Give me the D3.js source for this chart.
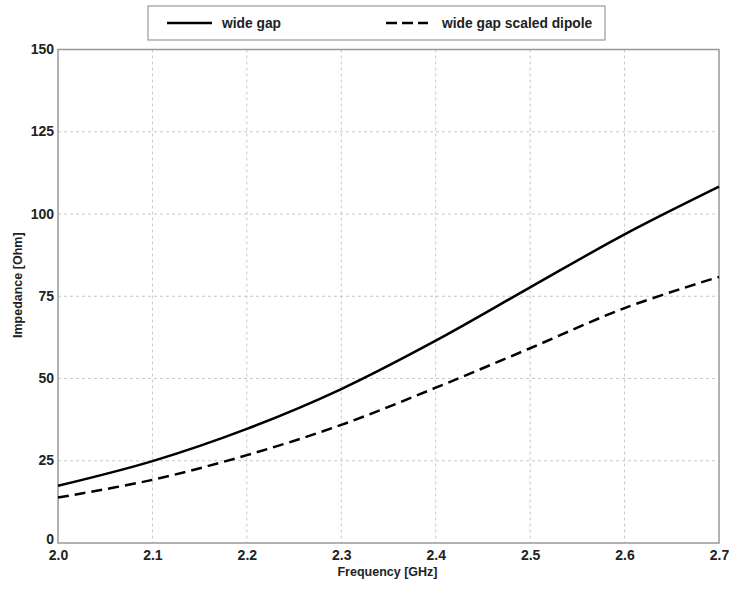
<!DOCTYPE html>
<html><head><meta charset="utf-8">
<script src="https://cdn.jsdelivr.net/npm/d3@7"></script>
<style>body{margin:0;background:#fff;} svg{display:block;font-family:"Liberation Sans",Arial,sans-serif;}</style>
</head><body>
<svg id="c" width="732" height="590"></svg>
<script>
const freq = [2.0, 2.1, 2.2, 2.3, 2.4, 2.5, 2.6, 2.7];
const wideGap = [17.4, 24.9, 34.7, 46.8, 61.5, 77.7, 93.8, 108.3];
const wideGapScaled = [13.8, 19.2, 26.7, 35.9, 47.2, 59.2, 71.4, 80.9];
const xTicks = [2.0, 2.1, 2.2, 2.3, 2.4, 2.5, 2.6, 2.7];
const yTicks = [0, 25, 50, 75, 100, 125, 150];
const seriesNames = ["wide gap", "wide gap scaled dipole"];

const svg = d3.select("#c");
const m = {l: 58, r: 719, t: 49.5, b: 543};
const x = d3.scaleLinear().domain([2.0, 2.7]).range([m.l, m.r]);
const y = d3.scaleLinear().domain([0, 150]).range([m.b, m.t]);

// grid
svg.append("g").selectAll("line").data(xTicks.slice(1, -1)).join("line")
  .attr("x1", d => x(d)).attr("x2", d => x(d)).attr("y1", m.t).attr("y2", m.b)
  .attr("stroke", "#c8c8c8").attr("stroke-width", 1).attr("stroke-dasharray", "3,3");
svg.append("g").selectAll("line").data(yTicks.slice(1, -1)).join("line")
  .attr("x1", m.l).attr("x2", m.r).attr("y1", d => y(d)).attr("y2", d => y(d))
  .attr("stroke", "#c8c8c8").attr("stroke-width", 1).attr("stroke-dasharray", "3,3");

// axes via d3
const xAxis = svg.append("g").attr("transform", `translate(0,${m.b})`)
  .call(d3.axisBottom(x).tickValues(xTicks).tickFormat(d3.format(".1f")).tickSize(0).tickPadding(7));
const yAxis = svg.append("g").attr("transform", `translate(${m.l},0)`)
  .call(d3.axisLeft(y).tickValues(yTicks).tickSize(0).tickPadding(4));
[xAxis, yAxis].forEach(a => {
  a.select(".domain").remove();
  a.selectAll("text").attr("font-family", "Liberation Sans, Arial, sans-serif")
    .attr("font-size", 14).attr("font-weight", "bold").attr("fill", "#222");
});
yAxis.selectAll("text").attr("dy", "0.3em");
yAxis.selectAll(".tick").filter(d => d === 0).select("text").attr("dy", "0em");

// frame
svg.append("rect").attr("x", m.l).attr("y", m.t).attr("width", m.r - m.l).attr("height", m.b - m.t)
  .attr("fill", "none").attr("stroke", "#999").attr("stroke-width", 1.5);

// lines
const line = d3.line().x((d, i) => x(freq[i])).y(d => y(d)).curve(d3.curveCatmullRom.alpha(0.5));
svg.append("path").datum(wideGap).attr("d", line).attr("fill", "none")
  .attr("stroke", "#000").attr("stroke-width", 2.5);
svg.append("path").datum(wideGapScaled).attr("d", line).attr("fill", "none")
  .attr("stroke", "#000").attr("stroke-width", 2.5).attr("stroke-dasharray", "11,6");

// axis titles
svg.append("text").attr("x", (m.l + m.r) / 2 - 1).attr("y", 576).attr("text-anchor", "middle")
  .attr("font-size", 12.5).attr("font-weight", "bold").attr("fill", "#222").text("Frequency [GHz]");
svg.append("text").attr("transform", `translate(22,${(m.t + m.b) / 2 - 11}) rotate(-90)`)
  .attr("text-anchor", "middle").attr("font-size", 12.5).attr("font-weight", "bold").attr("fill", "#222")
  .text("Impedance [Ohm]");

// legend
const lg = svg.append("g");
lg.append("rect").attr("x", 148).attr("y", 6).attr("width", 457).attr("height", 34)
  .attr("fill", "#fff").attr("stroke", "#999").attr("stroke-width", 1.2);
const legendItems = [
  {name: seriesNames[0], x1: 167, x2: 212, tx: 222, dash: null},
  {name: seriesNames[1], x1: 386, x2: 428, tx: 442, dash: "11,5"}
];
legendItems.forEach(it => {
  lg.append("line").attr("x1", it.x1).attr("x2", it.x2).attr("y1", 23).attr("y2", 23)
    .attr("stroke", "#000").attr("stroke-width", 2.5).attr("stroke-dasharray", it.dash);
  lg.append("text").attr("x", it.tx).attr("y", 28).attr("font-size", 13.8).attr("font-weight", "bold")
    .attr("fill", "#222").text(it.name);
});
</script>
</body></html>
